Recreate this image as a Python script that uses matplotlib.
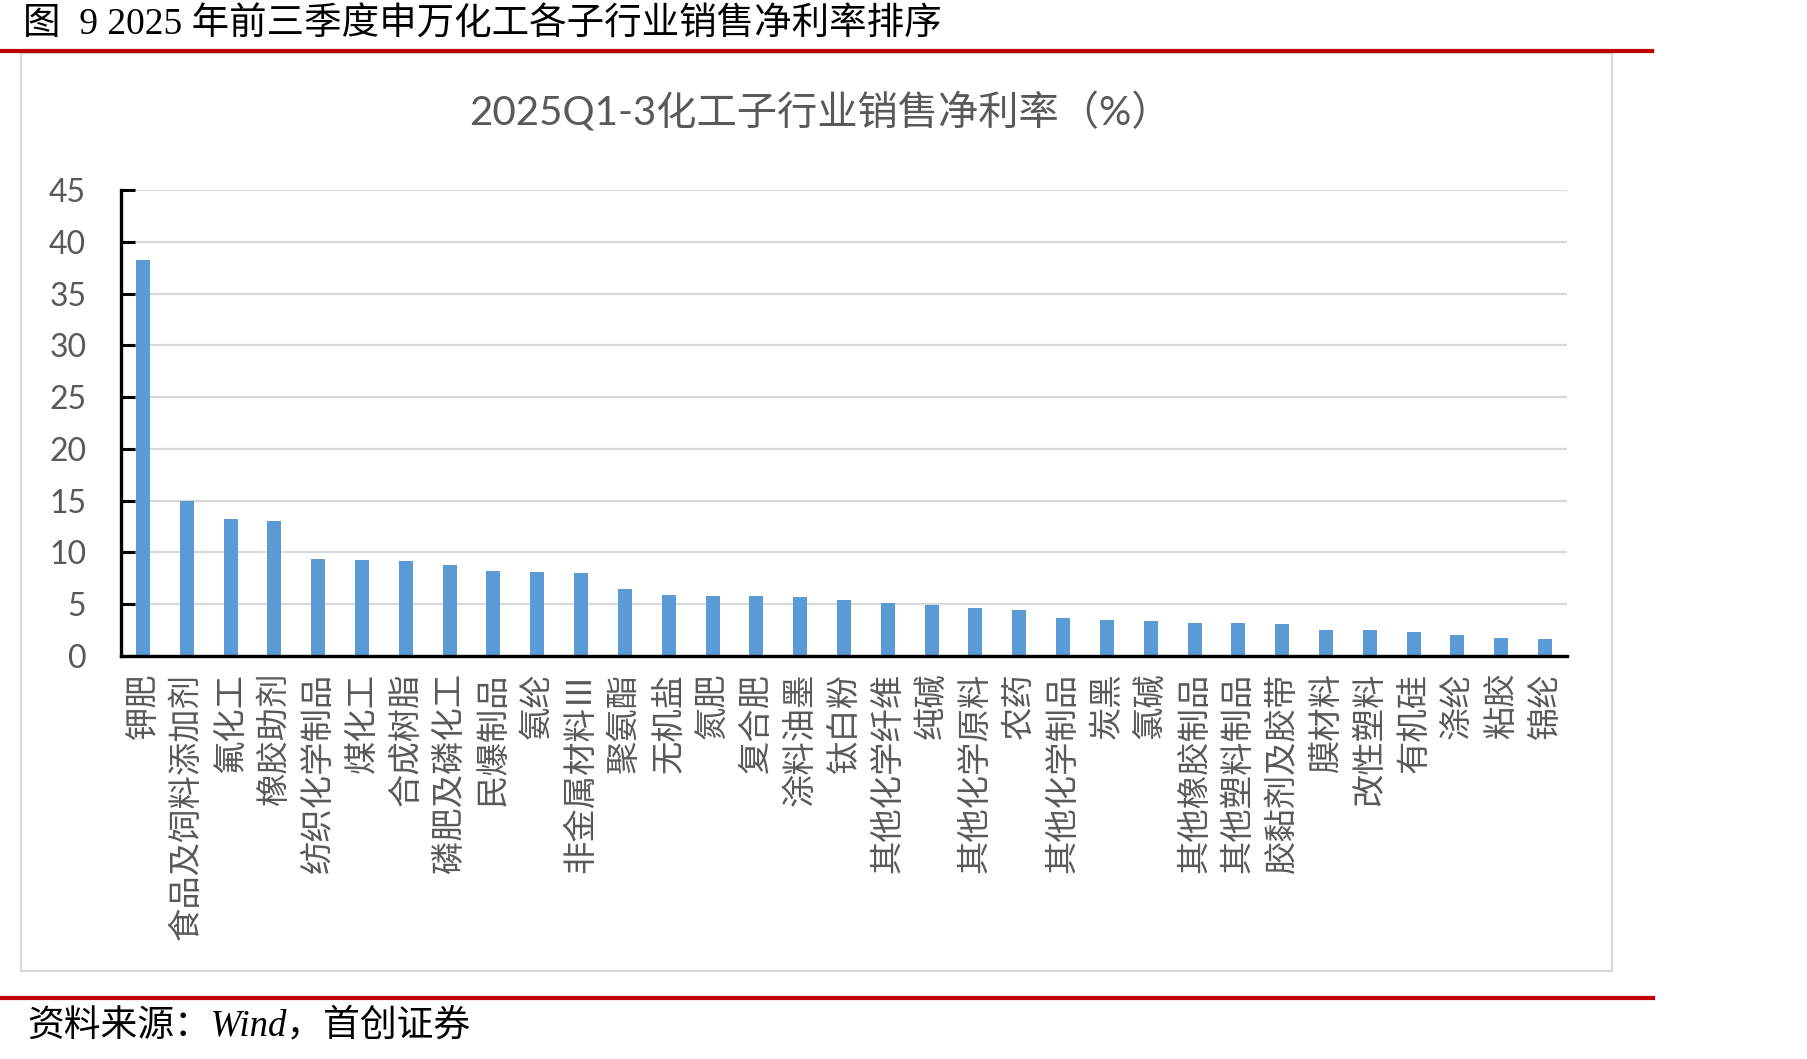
import matplotlib
matplotlib.use('Agg')
import matplotlib.pyplot as plt
from matplotlib.patches import Rectangle
from matplotlib.lines import Line2D

plt.rcParams['font.family'] = ['Noto Sans CJK SC', 'DejaVu Sans']

# 2025Q1-3 申万化工子行业销售净利率（%）
industries = ['钾肥', '食品及饲料添加剂', '氟化工', '橡胶助剂', '纺织化学制品', '煤化工',
              '合成树脂', '磷肥及磷化工', '民爆制品', '氨纶', '非金属材料Ⅲ', '聚氨酯',
              '无机盐', '氮肥', '复合肥', '涂料油墨', '钛白粉', '其他化学纤维', '纯碱',
              '其他化学原料', '农药', '其他化学制品', '炭黑', '氯碱', '其他橡胶制品',
              '其他塑料制品', '胶黏剂及胶带', '膜材料', '改性塑料', '有机硅', '涤纶',
              '粘胶', '锦纶']
net_margin = [38.2, 15.0, 13.2, 13.0, 9.4, 9.3, 9.2, 8.8, 8.2, 8.1, 8.0, 6.5,
              5.9, 5.8, 5.8, 5.7, 5.4, 5.1, 4.9, 4.6, 4.4, 3.7, 3.5, 3.4,
              3.2, 3.2, 3.1, 2.5, 2.5, 2.3, 2.0, 1.7, 1.6]
yticks = [0, 5, 10, 15, 20, 25, 30, 35, 40, 45]

W, H = 1807, 1059
fig = plt.figure(figsize=(W / 100, H / 100), dpi=100)

# frame: header, red rules, grey chart box
fig.text(23 / W, 1 - 25 / H, '图  9 2025 年前三季度申万化工各子行业销售净利率排序',
         family=['Liberation Serif', 'Noto Sans CJK SC'], fontsize=27,
         ha='left', va='center', color='black')
fig.add_artist(Line2D([0, 1652 / W], [1 - 51 / H, 1 - 51 / H], color='#C00000', lw=3))
fig.add_artist(Line2D([0, 1653 / W], [1 - 998 / H, 1 - 998 / H], color='#C00000', lw=3))
fig.add_artist(Rectangle((21 / W, 1 - 971 / H), 1591 / W, 918 / H, fill=False,
                         edgecolor='#D9D9D9', lw=1.6))
fig.text(27 / W, 1 - 1026 / H, '资料来源：Wind，首创证券',
         family=['Liberation Serif', 'Noto Sans CJK SC'], style='italic',
         fontsize=26.5, ha='left', va='center', color='black')

fig.text(820 / W, 1 - 112 / H, '2025Q1-3化工子行业销售净利率（%）',
         family=['Lato', 'Noto Sans CJK SC'], fontsize=29,
         ha='center', va='center', color='#595959')

ax = fig.add_axes([121 / W, 1 - 656 / H, 1446 / W, 466 / H])
x = range(len(industries))
ax.bar(x, net_margin, width=0.32, color='#5B9BD5', zorder=3)

ax.set_xlim(-0.5, len(industries) - 0.5)
ax.set_ylim(0, 45)
ax.set_yticks(yticks)
ax.set_xticks(list(x))
ax.set_xticklabels(industries, rotation=90, fontsize=24, color='#595959')
for lab in ax.get_yticklabels():
    lab.set_family(['Lato'])
ax.tick_params(axis='y', direction='in', length=10, width=2.2, pad=25,
               labelsize=23, labelcolor='#595959')
ax.tick_params(axis='x', length=0, pad=12)

ax.grid(axis='y', color='#D9D9D9', lw=1.6, zorder=0)
for side in ['top', 'right']:
    ax.spines[side].set_visible(False)
for side in ['left', 'bottom']:
    ax.spines[side].set_linewidth(2.4)
    ax.spines[side].set_color('black')
    ax.spines[side].set_zorder(4)

fig.savefig('out.png', dpi=100)
